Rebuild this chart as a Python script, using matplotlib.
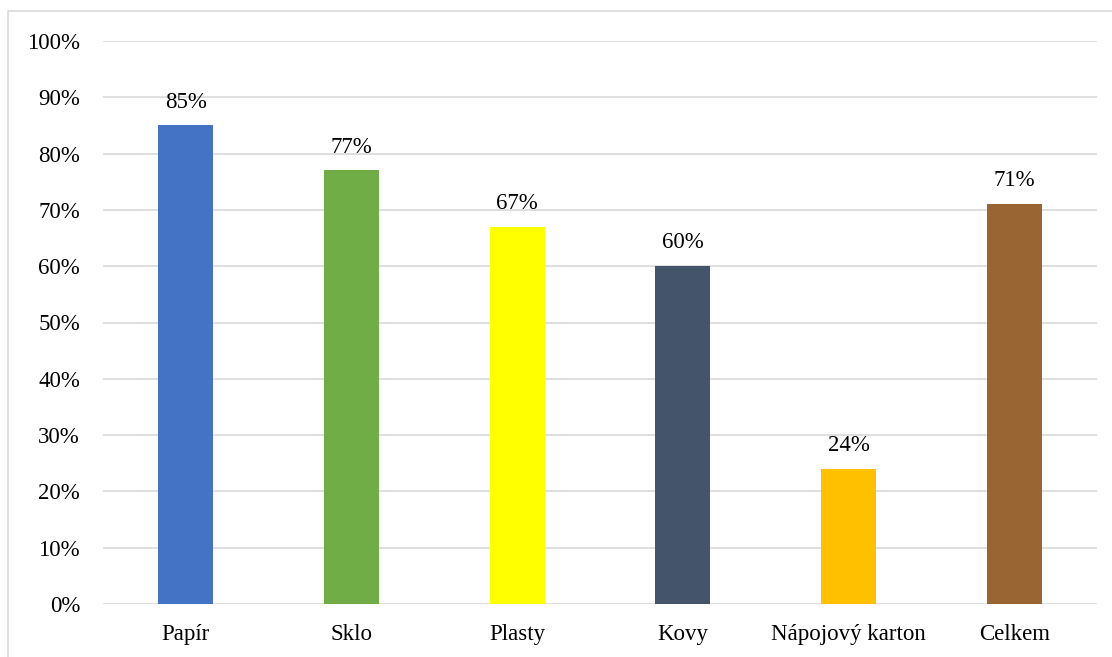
import matplotlib.pyplot as plt
from matplotlib.patches import Rectangle
from matplotlib.ticker import MultipleLocator, PercentFormatter

categories = ['Papír', 'Sklo', 'Plasty', 'Kovy', 'Nápojový karton', 'Celkem']
values = [85, 77, 67, 60, 24, 71]
colors = ['#4472C4', '#70AD47', '#FFFF00', '#44546A', '#FFC000', '#996633']

plt.rcParams['font.family'] = ['Liberation Serif', 'DejaVu Serif']

fig = plt.figure(figsize=(11.12, 6.57), dpi=100)
ax = fig.add_axes([103/1112, 53/657, 994/1112, 563/657])

fig.patches.append(Rectangle((8/1112, -0.01), 1.0, 1 - 11/657 + 0.01,
                             transform=fig.transFigure, fill=False,
                             edgecolor='#D9D9D9', linewidth=1.2))

x = range(len(categories))
bars = ax.bar(x, values, width=0.33, color=colors, zorder=3)
for b, v in zip(bars, values):
    ax.text(b.get_x() + b.get_width()/2, v + 2.3, f'{v}%',
            ha='center', va='bottom', fontsize=16.5)

ax.set_xlim(-0.5, len(categories) - 0.5)
ax.set_ylim(0, 100)
ax.yaxis.set_major_locator(MultipleLocator(10))
ax.yaxis.set_major_formatter(PercentFormatter(decimals=0))
ax.set_xticks(list(x))
ax.set_xticklabels(categories)
ax.tick_params(axis='both', length=0, labelsize=16.5)
ax.tick_params(axis='y', pad=16.5)
ax.tick_params(axis='x', pad=14.5)
ax.grid(axis='y', color='#D9D9D9', linewidth=1.2, zorder=0)
for s in ax.spines.values():
    s.set_visible(False)

fig.savefig('out.png', dpi=100)
